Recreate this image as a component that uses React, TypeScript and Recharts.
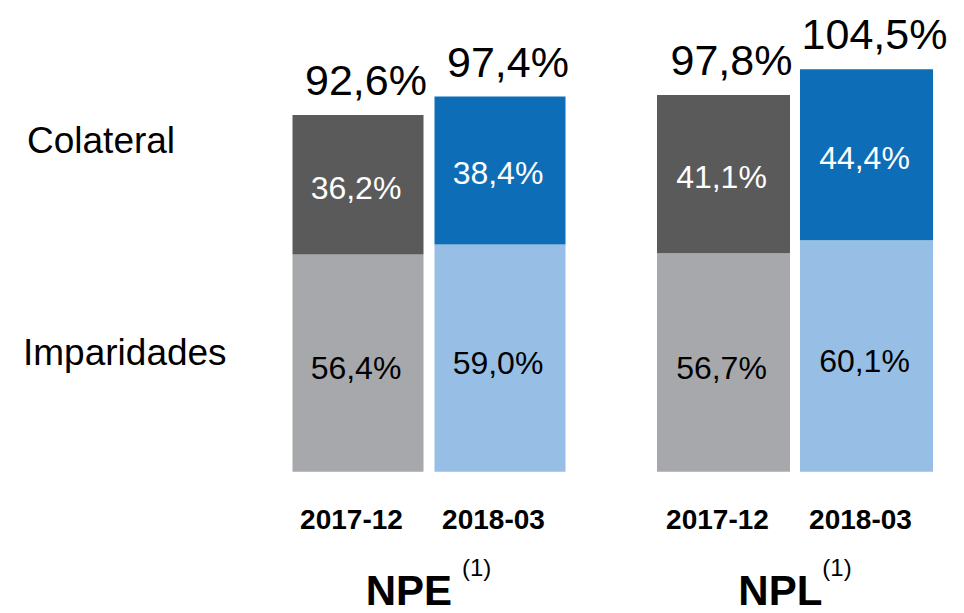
import React from "react";
import { BarChart, Bar, XAxis, YAxis, Cell, LabelList, Label } from "recharts";

const periods = ["2017-12", "2018-03"];
const npeImparidades = [56.4, 59.0];
const npeColateral = [36.2, 38.4];
const npeTotal = [92.6, 97.4];
const nplImparidades = [56.7, 60.1];
const nplColateral = [41.1, 44.4];
const nplTotal = [97.8, 104.5];

const rowLabels = ["Colateral", "Imparidades"];

const darkColors = ["#5a5a5a", "#0d6eb7"];
const lightColors = ["#a7a8ab", "#97bfe5"];

const FONT = "'Liberation Sans', Arial, sans-serif";
const H = 613;

const fmt = (v: number) => v.toFixed(1).replace(".", ",") + "%";

const build = (imp: number[], col: number[], tot: number[]) =>
  periods.map((p, i) => ({ period: p, imp: imp[i], col: col[i], total: tot[i] }));

const inner = (color: string, shift: number) => (props: any) => {
  const { x, y, width, height, value } = props;
  return (
    <text
      x={x + width / 2 - 2}
      y={y + height / 2 + 11 + shift}
      textAnchor="middle"
      fill={color}
      fontSize={32}
      fontFamily={FONT}
    >
      {fmt(value)}
    </text>
  );
};

const totalLabel = (props: any) => {
  const { x, y, width, value } = props;
  return (
    <text x={x + width / 2 + 8} y={y - 20} textAnchor="middle" fill="#000" fontSize={43} fontFamily={FONT}>
      {fmt(value)}
    </text>
  );
};

const PeriodTick = (props: any) => {
  const { x, y, payload } = props;
  return (
    <text x={x - 6} y={y + 57} textAnchor="middle" fill="#000" fontSize={28} fontWeight="bold" fontFamily={FONT}>
      {payload.value}
    </text>
  );
};

interface GroupProps {
  title: string;
  supDx: number;
  left: number;
  width: number;
  marginLeft: number;
  marginRight: number;
  barSize: number;
  data: { period: string; imp: number; col: number; total: number }[];
}

const GroupChart = ({ title, supDx, left, width, marginLeft, marginRight, barSize, data }: GroupProps) => (
  <div style={{ position: "absolute", left, top: 0 }}>
    <BarChart
      width={width}
      height={H}
      data={data}
      margin={{ top: 48, right: marginRight, left: marginLeft, bottom: 41.3 }}
    >
      <XAxis
        dataKey="period"
        height={100}
        axisLine={false}
        tickLine={false}
        tickSize={0}
        tickMargin={0}
        tick={<PeriodTick />}
        interval={0}
      >
        <Label
          content={(p: any) => {
            const vb = p.viewBox;
            return (
              <text
                x={vb.x + vb.width / 2}
                y={vb.y + 133}
                textAnchor="middle"
                fill="#000"
                fontFamily={FONT}
              >
                <tspan fontSize={42} fontWeight="bold">{title}</tspan>
                <tspan fontSize={24} dx={supDx} dy={-29}>(1)</tspan>
              </text>
            );
          }}
        />
      </XAxis>
      <YAxis hide domain={[0, 110]} />
      <Bar dataKey="imp" stackId="a" barSize={barSize} isAnimationActive={false}>
        {data.map((_, i) => (
          <Cell key={i} fill={lightColors[i]} />
        ))}
        <LabelList dataKey="imp" content={inner("#000", 5)} />
      </Bar>
      <Bar dataKey="col" stackId="a" barSize={barSize} isAnimationActive={false}>
        {data.map((_, i) => (
          <Cell key={i} fill={darkColors[i]} />
        ))}
        <LabelList dataKey="col" content={inner("#fff", 3)} />
        <LabelList dataKey="total" content={totalLabel} />
      </Bar>
    </BarChart>
  </div>
);

const App = () => (
  <div style={{ position: "absolute", left: 0, top: 0, width: 964, height: H, background: "#fff", overflow: "hidden" }}>
    <div style={{ position: "absolute", left: 27, top: 121.7, fontSize: 37, lineHeight: "37px", fontFamily: FONT, whiteSpace: "nowrap" }}>
      {rowLabels[0]}
    </div>
    <div style={{ position: "absolute", left: 23, top: 333.7, fontSize: 37, lineHeight: "37px", fontFamily: FONT, whiteSpace: "nowrap" }}>
      {rowLabels[1]}
    </div>
    <GroupChart
      title="NPE"
      supDx={10}
      left={0}
      width={600}
      marginLeft={286.5}
      marginRight={29.5}
      barSize={131}
      data={build(npeImparidades, npeColateral, npeTotal)}
    />
    <GroupChart
      title="NPL"
      supDx={0}
      left={600}
      width={364}
      marginLeft={52}
      marginRight={26}
      barSize={133}
      data={build(nplImparidades, nplColateral, nplTotal)}
    />
  </div>
);

export default App;
